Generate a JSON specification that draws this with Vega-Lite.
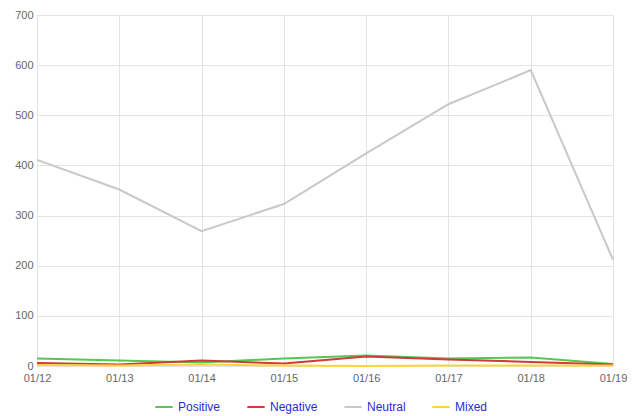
{
  "$schema": "https://vega.github.io/schema/vega-lite/v6.json",
  "width": 576,
  "height": 351,
  "autosize": "none",
  "padding": {"left": 37, "top": 15, "right": 22, "bottom": 50},
  "background": "white",
  "config": {"view": {"stroke": null}, "font": "Liberation Sans"},
  "data": {"values": [
    {"date": "01/12", "series": "Positive", "value": 15},
    {"date": "01/13", "series": "Positive", "value": 11},
    {"date": "01/14", "series": "Positive", "value": 7},
    {"date": "01/15", "series": "Positive", "value": 15},
    {"date": "01/16", "series": "Positive", "value": 21},
    {"date": "01/17", "series": "Positive", "value": 15},
    {"date": "01/18", "series": "Positive", "value": 17},
    {"date": "01/19", "series": "Positive", "value": 4},
    {"date": "01/12", "series": "Negative", "value": 6},
    {"date": "01/13", "series": "Negative", "value": 3},
    {"date": "01/14", "series": "Negative", "value": 11},
    {"date": "01/15", "series": "Negative", "value": 5},
    {"date": "01/16", "series": "Negative", "value": 19},
    {"date": "01/17", "series": "Negative", "value": 13},
    {"date": "01/18", "series": "Negative", "value": 8},
    {"date": "01/19", "series": "Negative", "value": 3},
    {"date": "01/12", "series": "Neutral", "value": 411},
    {"date": "01/13", "series": "Neutral", "value": 352},
    {"date": "01/14", "series": "Neutral", "value": 269},
    {"date": "01/15", "series": "Neutral", "value": 323},
    {"date": "01/16", "series": "Neutral", "value": 424},
    {"date": "01/17", "series": "Neutral", "value": 522},
    {"date": "01/18", "series": "Neutral", "value": 590},
    {"date": "01/19", "series": "Neutral", "value": 212},
    {"date": "01/12", "series": "Mixed", "value": 2},
    {"date": "01/13", "series": "Mixed", "value": 1},
    {"date": "01/14", "series": "Mixed", "value": 3},
    {"date": "01/15", "series": "Mixed", "value": 1},
    {"date": "01/16", "series": "Mixed", "value": 0},
    {"date": "01/17", "series": "Mixed", "value": 1},
    {"date": "01/18", "series": "Mixed", "value": 1},
    {"date": "01/19", "series": "Mixed", "value": 1}
  ]},
  "mark": {"type": "line", "strokeWidth": 2},
  "encoding": {
    "x": {
      "field": "date", "type": "ordinal",
      "scale": {"type": "point", "padding": 0},
      "axis": {"title": null, "labelAngle": 0, "domain": false, "ticks": false, "grid": true, "gridColor": "#e4e4e4", "labelColor": "#666666", "labelFontSize": 11, "labelPadding": 6}
    },
    "y": {
      "field": "value", "type": "quantitative",
      "scale": {"domain": [0, 700], "nice": false},
      "axis": {"title": null, "values": [0, 100, 200, 300, 400, 500, 600, 700], "domain": false, "ticks": false, "grid": true, "gridColor": "#e4e4e4", "labelColor": "#666666", "labelFontSize": 11, "labelPadding": 4}
    },
    "color": {
      "field": "series", "type": "nominal",
      "scale": {"domain": ["Positive", "Negative", "Neutral", "Mixed"], "range": ["#55c755", "#d03a3a", "#c8c8c8", "#ffd43b"]},
      "legend": {"title": null, "orient": "none", "direction": "horizontal", "legendX": 117, "legendY": 382, "symbolType": "stroke", "symbolSize": 300, "symbolStrokeWidth": 2, "labelColor": "#2a2ae0", "labelFontSize": 12, "columnPadding": 22}
    }
  }
}
